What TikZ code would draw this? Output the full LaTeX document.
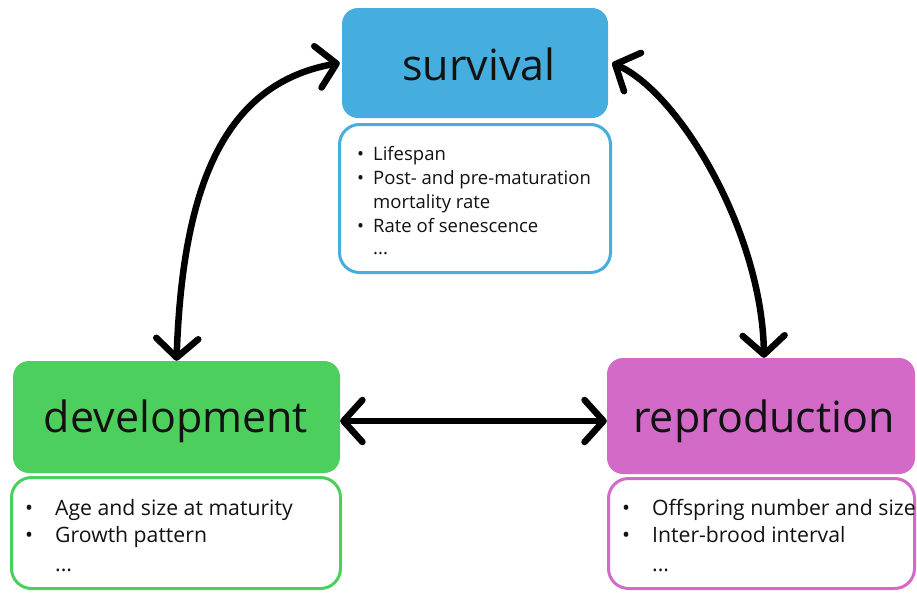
\documentclass[tikz,border=0pt]{standalone}
\usepackage{fontspec}
\setmainfont{Open Sans}
\usetikzlibrary{arrows.meta,calc}
\definecolor{svblue}{HTML}{46AEDE}
\definecolor{dvgreen}{HTML}{4DCF5D}
\definecolor{rpmag}{HTML}{D36AC7}
\definecolor{ink}{HTML}{121212}
\tikzset{
  head/.style={rounded corners=16pt, inner sep=0pt},
  bodybox/.style={draw, line width=3pt, fill=white, rounded corners=20pt, inner sep=0pt},
  title/.style={anchor=base, inner sep=0pt, text=ink, font=\fontsize{43}{50}\selectfont},
  smalllist/.style={anchor=base west, inner sep=0pt, text=ink, align=left, font=\fontsize{18.5}{24}\selectfont},
  biglist/.style={anchor=base west, inner sep=0pt, text=ink, align=left, font=\fontsize{21.2}{27.5}\selectfont},
  barb/.tip={Straight Barb[length=19pt,width=42pt,line cap=round,line join=round]},
  arr/.style={line width=6.5pt, black, line cap=round, barb-barb}
}
\newcommand{\sbul}{\makebox[16pt][l]{\textbullet}}
\newcommand{\bbul}{\makebox[30pt][l]{\textbullet}}
\begin{document}
\begin{tikzpicture}[x=1pt,y=1pt]
\useasboundingbox (0,0) rectangle (917,-592);
% survival
\node[head, fill=svblue, minimum width=266pt, minimum height=110pt] (svh) at (475,-63) {};
\node[bodybox, draw=svblue, minimum width=271pt, minimum height=148pt] (svb) at (475,-198.5) {};
\node[title] (svt) at (479,-80) {survival};
\node[smalllist] (svl) at (357,-254) {\sbul Lifespan\\ \sbul Post- and pre-maturation\\ \hspace{16pt}mortality rate\\ \sbul Rate of senescence\\[-2pt] \hspace{16pt}...};
% development
\node[head, fill=dvgreen, minimum width=327pt, minimum height=112pt] (dvh) at (176.5,-417) {};
\node[bodybox, draw=dvgreen, minimum width=329pt, minimum height=111pt] (dvb) at (176,-533) {};
\node[title] (dvt) at (176,-432) {development};
\node[biglist] (dvl) at (25,-571) {\bbul Age and size at maturity\\ \bbul Growth pattern\\[1pt] \hspace{30pt}...};
% reproduction
\node[head, fill=rpmag, minimum width=308pt, minimum height=116pt] (rph) at (761,-416) {};
\node[bodybox, draw=rpmag, minimum width=306pt, minimum height=110pt] (rpb) at (761.5,-533.5) {};
\node[title] (rpt) at (764,-432) {reproduction};
\node[biglist] (rpl) at (622,-571) {\bbul Offspring number and size\\ \bbul Inter-brood interval\\[1pt] \hspace{30pt}...};
% connectors
\draw[arr] ([xshift=-2pt]svh.west) to[out=190, in=88, out distance=120pt, in distance=170pt] (dvh.north);
\draw[arr] ([xshift=4pt]svh.east) to[out=-24, in=91, out distance=73pt, in distance=127pt] ([xshift=3pt]rph.north);
\draw[arr] ([yshift=-4pt]dvh.east) -- ([yshift=-4pt]dvh.east -| rph.west);
\end{tikzpicture}
\end{document}
